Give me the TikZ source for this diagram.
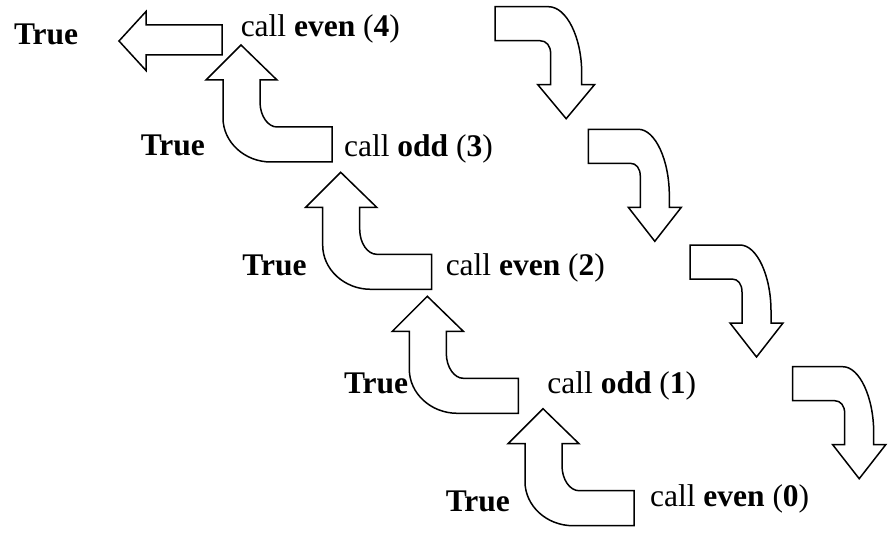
\documentclass[tikz,border=0pt]{standalone}
\usepackage{fontspec}
\setmainfont{Liberation Serif}
\usepackage{tikz}
\usetikzlibrary{positioning}
\tikzset{every picture/.style={line width=0.75pt}}
\tikzset{
  lbl/.style={anchor=base west,inner sep=0pt,font=\fontsize{15.75}{18}\selectfont},
  uparr/.pic={
    \draw (0,-44) -- (0,-82) -- (-17,-82) -- (18,-117) -- (54,-82) -- (37,-82) -- (37,-60)
      .. controls (37,-46) and (45,-35) .. (54,-35) -- (109,-35) -- (109,0) -- (48,0)
      .. controls (21.5,0) and (0,-20) .. cycle;
  },
  downarr/.pic={
    \draw (0,0) -- (50,0) .. controls (67,0) and (81,31) .. (81,66) -- (81,78) -- (93,78)
      -- (66.5,112) -- (40,78) -- (52,78) -- (52,47)
      .. controls (52,39) and (48,34) .. (42,34) -- (0,34) -- cycle;
  }
}
\begin{document}
\begin{tikzpicture}[x=0.5pt,y=-0.5pt]
\useasboundingbox (0,0) rectangle (893,534);
\node[lbl] (t4) at (13.3,45) {\textbf{True}};
\node[lbl] (c4) at (240,36.7) {call \textbf{even} (\textbf{4})};
\node[lbl] (t3) at (140,156) {\textbf{True}};
\node[lbl] (c3) at (343.3,156.7) {call \textbf{odd} (\textbf{3})};
\node[lbl] (t2) at (241.7,275) {\textbf{True}};
\node[lbl] (c2) at (445,275) {call \textbf{even} (\textbf{2})};
\node[lbl] (t1) at (343.3,393.3) {\textbf{True}};
\node[lbl] (c1) at (546.7,393) {call \textbf{odd} (\textbf{1})};
\node[lbl] (t0) at (445,511.7) {\textbf{True}};
\node[lbl] (c0) at (649.3,506.7) {call \textbf{even} (\textbf{0})};
%
\draw (222,25) -- (146,25) -- (146,11.5) -- (119,41) -- (146,70.5) -- (146,55) -- (222,55) -- cycle;
\pic at (223,162) {uparr};
\pic at (322.7,289.3) {uparr};
\pic at (409.3,413.3) {uparr};
\pic at (525,525.7) {uparr};
%
\pic[xscale=1.07] at (495,6.7) {downarr};
\pic at (588.3,129.3) {downarr};
\pic at (690,245) {downarr};
\pic at (792.7,366.7) {downarr};
\end{tikzpicture}
\end{document}
